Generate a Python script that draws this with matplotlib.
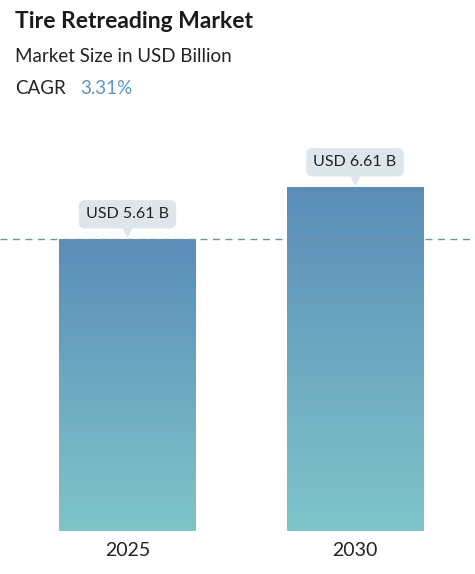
import matplotlib
matplotlib.use("Agg")
import matplotlib.pyplot as plt
import numpy as np
from matplotlib.colors import LinearSegmentedColormap

years = ["2025", "2030"]
values = [5.61, 6.61]
labels = ["USD 5.61 B", "USD 6.61 B"]
cagr = "3.31%"

plt.rcParams['font.family'] = ['Lato', 'DejaVu Sans']
W, H = 475, 574
fig = plt.figure(figsize=(W/100, H/100), dpi=100)
bottom_px, top_px = 531, 141
ax = fig.add_axes([0, (H-bottom_px)/H, 1, (bottom_px-top_px)/H])
ymax = 7.5
for s in ax.spines.values():
    s.set_visible(False)
ax.set_yticks([])
x = np.arange(len(years))
ax.set_xticks(x)
ax.set_xticklabels(years, fontsize=14, color="#222222")
ax.tick_params(axis='x', length=0, pad=8)

cmap = LinearSegmentedColormap.from_list("g", ["#7fc5c9", "#5b8db8"])
grad = np.linspace(0, 1, 256).reshape(-1, 1)
w = 0.598
bars = ax.bar(x, values, width=w, color="none")
for b, v in zip(bars, values):
    im = ax.imshow(grad, cmap=cmap, aspect='auto', origin='lower',
                   extent=[b.get_x(), b.get_x()+w, 0, v], zorder=2)
    im.set_clip_path(b)
ax.set_xlim(-0.56, 1.527)
ax.set_ylim(0, ymax)

ax.axhline(values[0], color="#6f8fae", lw=1, ls=(0, (5, 4)), zorder=3)

for xi, v, lab in zip(x, values, labels):
    ax.annotate(lab, (xi, v), xytext=(0, 18), textcoords="offset points",
                ha="center", va="center", fontsize=11.5, color="#222222", zorder=5,
                bbox=dict(boxstyle="round,pad=0.45,rounding_size=0.4", fc="#dde6ea", ec="none"))
    ax.plot([xi], [v + 0.16], marker="v", ms=7, color="#dde6ea", zorder=4, clip_on=False)

fig.text(15/W, 1-22/H, "Tire Retreading Market", fontsize=16.5, fontweight="bold", color="#1a1a1a", va="center")
fig.text(15/W, 1-57/H, "Market Size in USD Billion", fontsize=13.5, color="#222222", va="center")
fig.text(15/W, 1-88/H, "CAGR", fontsize=13.5, color="#222222", va="center")
fig.text(80/W, 1-88/H, cagr, fontsize=13.5, color="#5b95c4", va="center")

fig.savefig("out.png", dpi=100)
